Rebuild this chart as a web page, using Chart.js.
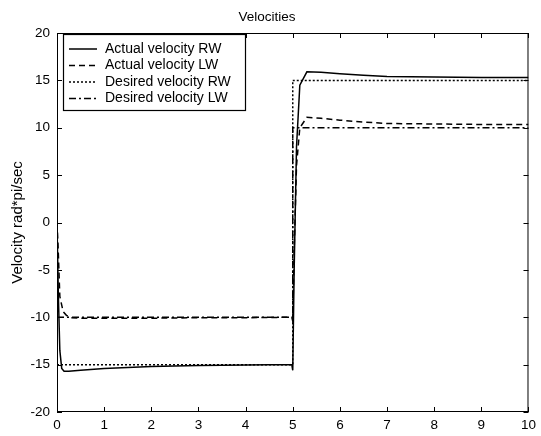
<!DOCTYPE html>
<html>
<head>
<meta charset="utf-8">
<script src="https://cdn.jsdelivr.net/npm/chart.js@4.4.0/dist/chart.umd.min.js"></script>
<style>
  body { margin: 0; background: #fff; }
  canvas { display: block; }
</style>
</head>
<body>
<canvas id="velChart" width="541" height="436"></canvas>
<script>
// time samples (sec) and wheel velocities (rad*pi/sec)
const tActualRW = [0, 0.03, 0.06, 0.1, 0.15, 0.25, 0.5, 1, 1.5, 2, 3, 4, 4.98, 5.0, 5.03, 5.08, 5.15, 5.3, 5.6, 6, 6.5, 7, 8, 9, 10];
const actualRW  = [0, -8, -13.5, -15.4, -15.7, -15.7, -15.6, -15.4, -15.3, -15.2, -15.1, -15.05, -15.0, -15.6, -5, 8, 14.5, 15.9, 15.85, 15.7, 15.55, 15.4, 15.35, 15.3, 15.3];

const tActualLW = [0, 0.02, 0.06, 0.13, 0.2, 0.3, 0.5, 1, 2, 3, 4, 4.98, 5.0, 5.03, 5.08, 5.15, 5.3, 5.6, 6, 6.5, 7, 8, 9, 10];
const actualLW  = [0, -2.1, -7.8, -9.4, -9.8, -10.05, -10.1, -10.1, -10.1, -10.05, -10.05, -10.0, -10.4, -3, 6, 10, 11.1, 11.0, 10.8, 10.6, 10.45, 10.4, 10.35, 10.35];

const tDesired  = [0, 5, 5, 10];
const desiredRW = [-15, -15, 15, 15];
const desiredLW = [-10, -10, 10, 10];

const seriesNames = ['Actual velocity RW', 'Actual velocity LW', 'Desired velocity RW', 'Desired velocity LW'];
const dashes = [[], [6, 4], [2, 2], [7, 3, 2, 3]];

const xTicks = [0, 1, 2, 3, 4, 5, 6, 7, 8, 9, 10];
const yTicks = [-20, -15, -10, -5, 0, 5, 10, 15, 20];

const FONT = '"Liberation Sans", Arial, Helvetica, sans-serif';

const pts = (ts, vs) => ts.map((t, i) => ({ x: t, y: vs[i] }));
const seriesData = [
    pts(tActualRW, actualRW),
    pts(tActualLW, actualLW),
    pts(tDesired, desiredRW),
    pts(tDesired, desiredLW)
];

// matlab style box, inside ticks and legend
const matlabBox = {
    id: 'matlabBox',
    afterDraw(chart) {
        const { ctx, chartArea: a, scales: { x, y } } = chart;
        ctx.save();
        ctx.strokeStyle = '#000';
        ctx.lineWidth = 1;
        ctx.setLineDash([]);
        ctx.strokeRect(a.left + 0.5, a.top + 0.5, a.right - a.left - 1, a.bottom - a.top - 1);

        const tl = 5;
        ctx.beginPath();
        xTicks.forEach(v => {
            const px = Math.round(x.getPixelForValue(v)) + 0.5;
            ctx.moveTo(px, a.bottom); ctx.lineTo(px, a.bottom - tl);
            ctx.moveTo(px, a.top); ctx.lineTo(px, a.top + tl);
        });
        yTicks.forEach(v => {
            const py = Math.round(y.getPixelForValue(v)) + 0.5;
            ctx.moveTo(a.left, py); ctx.lineTo(a.left + tl, py);
            ctx.moveTo(a.right, py); ctx.lineTo(a.right - tl, py);
        });
        ctx.stroke();

        // legend
        const lx = a.left + 6, ly = a.top + 1, lw = 182, lh = 76;
        ctx.fillStyle = '#fff';
        ctx.fillRect(lx, ly, lw, lh);
        ctx.lineWidth = 1.2;
        ctx.strokeRect(lx + 0.5, ly + 0.5, lw, lh);
        ctx.font = '14px ' + FONT;
        ctx.textBaseline = 'middle';
        ctx.fillStyle = '#000';
        chart.data.datasets.forEach((ds, i) => {
            const rowY = ly + 15 + i * 16.5;
            ctx.beginPath();
            ctx.setLineDash(ds.borderDash || []);
            ctx.lineWidth = 1.5;
            ctx.moveTo(lx + 6, rowY);
            ctx.lineTo(lx + 34, rowY);
            ctx.stroke();
            ctx.setLineDash([]);
            ctx.fillText(ds.label, lx + 42, rowY);
        });
        ctx.restore();
    }
};

new Chart(document.getElementById('velChart').getContext('2d'), {
    type: 'line',
    data: {
        datasets: seriesNames.map((name, i) => ({
            label: name,
            data: seriesData[i],
            borderColor: '#000',
            borderWidth: 1.5,
            borderDash: dashes[i],
            pointRadius: 0,
            tension: 0,
            fill: false
        }))
    },
    options: {
        responsive: false,
        animation: false,
        layout: { padding: { left: 0, right: 7, top: 0, bottom: 0 } },
        plugins: {
            legend: { display: false },
            tooltip: { enabled: false },
            title: {
                display: true,
                text: 'Velocities',
                color: '#000',
                font: { family: FONT, size: 13.5, weight: 'normal' },
                padding: { top: 9, bottom: 7.8 }
            }
        },
        scales: {
            x: {
                type: 'linear',
                min: 0,
                max: 10,
                afterFit: s => { s.height = 24; },
                afterBuildTicks: s => { s.ticks = xTicks.map(v => ({ value: v })); },
                grid: { display: false, drawTicks: false },
                border: { display: false },
                ticks: {
                    color: '#000',
                    padding: 5,
                    maxRotation: 0,
                    font: { family: FONT, size: 13.5 }
                }
            },
            y: {
                min: -20,
                max: 20,
                afterFit: s => { s.width = 57; },
                afterBuildTicks: s => { s.ticks = yTicks.map(v => ({ value: v })); },
                grid: { display: false, drawTicks: false },
                border: { display: false },
                title: {
                    display: true,
                    text: 'Velocity rad*pi/sec',
                    color: '#000',
                    padding: { top: 9, bottom: 0 },
                    font: { family: FONT, size: 15 }
                },
                ticks: {
                    color: '#000',
                    padding: 7,
                    font: { family: FONT, size: 13.5 }
                }
            }
        }
    },
    plugins: [matlabBox]
});
</script>
</body>
</html>
